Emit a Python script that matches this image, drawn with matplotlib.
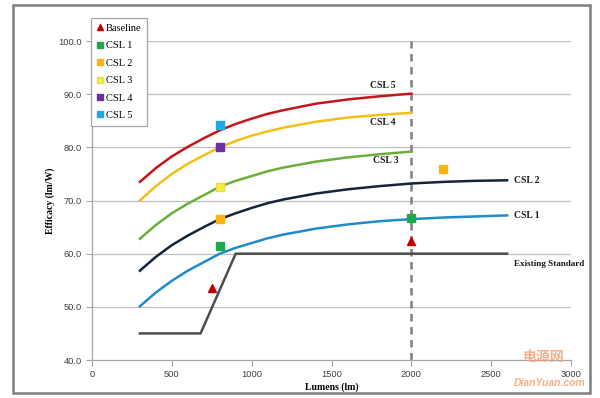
import matplotlib
matplotlib.use("Agg")
import matplotlib.pyplot as plt
from matplotlib.lines import Line2D
from matplotlib.patches import Rectangle

# ---- data ----
curve_x = [300, 400, 500, 600, 700, 800, 900, 1000, 1100, 1200, 1400, 1600, 1800, 2000]
curve_x_long = curve_x + [2200, 2400, 2600]
csl5_y = [73.5, 76.1, 78.3, 80.1, 81.7, 83.2, 84.4, 85.4, 86.3, 87.0, 88.2, 89.0, 89.6, 90.1]
csl4_y = [70.0, 72.7, 75.0, 76.9, 78.5, 80.0, 81.2, 82.2, 83.0, 83.7, 84.8, 85.6, 86.1, 86.5]
csl3_y = [62.8, 65.4, 67.6, 69.4, 71.0, 72.6, 73.7, 74.6, 75.5, 76.2, 77.3, 78.1, 78.7, 79.2]
csl2_y = [56.8, 59.4, 61.6, 63.4, 65.0, 66.5, 67.6, 68.6, 69.5, 70.2, 71.3, 72.1, 72.7, 73.2, 73.5, 73.7, 73.8]
csl1_y = [50.1, 52.7, 54.9, 56.8, 58.4, 60.0, 61.1, 62.0, 62.9, 63.6, 64.7, 65.5, 66.1, 66.5, 66.8, 67.0, 67.2]
std_x = [300, 680, 900, 2600]
std_y = [45.0, 45.0, 60.0, 60.0]

baseline_x = [750, 2000]
baseline_y = [53.5, 62.4]
m_csl1_x = [800, 2000]
m_csl1_y = [61.5, 66.7]
m_csl2_x = [800, 2200]
m_csl2_y = [66.6, 75.9]
m_csl3_x = [800]
m_csl3_y = [72.6]
m_csl4_x = [800]
m_csl4_y = [80.0]
m_csl5_x = [800]
m_csl5_y = [84.2]

x_ticks = [0, 500, 1000, 1500, 2000, 2500, 3000]
y_ticks = [40.0, 50.0, 60.0, 70.0, 80.0, 90.0, 100.0]
ref_x = 2000

# ---- figure ----
fig = plt.figure(figsize=(6.0, 3.98), dpi=100)
fig.patch.set_facecolor("white")
ax = fig.add_axes([92 / 600, 1 - 360 / 398, (571 - 92) / 600, (360 - 41) / 398])

serif = ["Liberation Serif", "DejaVu Serif"]
sans = ["Liberation Sans", "DejaVu Sans"]

ax.set_xlim(0, 3000)
ax.set_ylim(40, 100)
for yv in y_ticks[1:]:
    ax.axhline(yv, color="#BFBFBF", lw=0.9, zorder=0)

for s in ["top", "right"]:
    ax.spines[s].set_visible(False)
for s in ["left", "bottom"]:
    ax.spines[s].set_color("#A6A6A6")
    ax.spines[s].set_linewidth(0.9)

ax.set_xticks(x_ticks)
ax.set_yticks(y_ticks)
ax.set_yticklabels([f"{v:.1f}" for v in y_ticks])
ax.tick_params(axis="both", length=4, width=0.8, color="#A6A6A6",
               labelsize=6.7, labelcolor="#404040")
ax.tick_params(axis="x", pad=3)
for lab in ax.get_xticklabels() + ax.get_yticklabels():
    lab.set_family(sans)

ax.set_xlabel("Lumens (lm)", family=serif, fontweight="bold", fontsize=7, labelpad=3)
ax.set_ylabel("Efficacy (lm/W)", family=serif, fontweight="bold", fontsize=7, labelpad=2)

# dashed reference
ax.axvline(ref_x, color="#7F7F7F", lw=1.8, ls=(0, (3, 2.2)), zorder=1)

# curves
ax.plot(std_x, std_y, color="#4D4D4D", lw=1.8, zorder=2)
ax.plot(curve_x_long, csl1_y, color="#1E8CC8", lw=1.8, zorder=2)
ax.plot(curve_x_long, csl2_y, color="#13253A", lw=1.8, zorder=2)
ax.plot(curve_x, csl3_y, color="#6AAF3A", lw=1.8, zorder=2)
ax.plot(curve_x, csl4_y, color="#F2BE1A", lw=1.8, zorder=2)
ax.plot(curve_x, csl5_y, color="#C3161C", lw=1.8, zorder=2)

# markers
ms = 5.5
ax.plot(baseline_x, baseline_y, ls="none", marker="^", ms=5.5, color="#C00000", zorder=4)
ax.plot(m_csl1_x, m_csl1_y, ls="none", marker="s", ms=ms, color="#1DA84C", zorder=4)
ax.plot(m_csl2_x, m_csl2_y, ls="none", marker="s", ms=ms, color="#F9B413", zorder=4)
ax.plot(m_csl3_x, m_csl3_y, ls="none", marker="s", ms=ms, color="#F5F03C",
        markeredgecolor="#E8D84A", zorder=4)
ax.plot(m_csl4_x, m_csl4_y, ls="none", marker="s", ms=ms, color="#6A2FA0", zorder=4)
ax.plot(m_csl5_x, m_csl5_y, ls="none", marker="s", ms=ms, color="#1EA8E6", zorder=4)

# curve labels
lab_kw = dict(family=serif, fontweight="bold", color="#1A1A1A")
ax.text(1820, 91.7, "CSL 5", ha="center", va="center", fontsize=6.9, **lab_kw)
ax.text(1820, 84.6, "CSL 4", ha="center", va="center", fontsize=6.9, **lab_kw)
ax.text(1840, 77.5, "CSL 3", ha="center", va="center", fontsize=6.9, **lab_kw)
ax.text(2645, 73.8, "CSL 2", ha="left", va="center", fontsize=6.9, **lab_kw)
ax.text(2645, 67.2, "CSL 1", ha="left", va="center", fontsize=6.9, **lab_kw)
ax.text(2645, 58.1, "Existing Standard", ha="left", va="center", fontsize=6.6, **lab_kw)

# legend
handles = [
    Line2D([], [], ls="none", marker="^", ms=4.6, color="#C00000"),
    Line2D([], [], ls="none", marker="s", ms=5, color="#1DA84C"),
    Line2D([], [], ls="none", marker="s", ms=5, color="#F9B413"),
    Line2D([], [], ls="none", marker="s", ms=5, color="#F5F03C", markeredgecolor="#E8D84A"),
    Line2D([], [], ls="none", marker="s", ms=5, color="#6A2FA0"),
    Line2D([], [], ls="none", marker="s", ms=5, color="#1EA8E6"),
]
labels = ["Baseline", "CSL 1", "CSL 2", "CSL 3", "CSL 4", "CSL 5"]
leg = fig.legend(handles, labels, loc="upper left", bbox_to_anchor=(91 / 600, 1 - 18 / 398),
                 bbox_transform=fig.transFigure, borderaxespad=0, fancybox=False,
                 framealpha=1, edgecolor="#A6A6A6", prop={"family": serif, "size": 7.5},
                 handlelength=0.6, handletextpad=0.3, labelspacing=0.78,
                 borderpad=0.55)
leg.get_frame().set_linewidth(0.9)
leg.set_zorder(10)

# outer frame
fig.patches.append(Rectangle((13 / 600, 1 - 393 / 398), (590 - 13) / 600, (393 - 5) / 398,
                             transform=fig.transFigure, fill=False,
                             edgecolor="#7F7F7F", lw=1.8, zorder=0))

# watermark
fig.text(543 / 600, 1 - 357 / 398, "电源网", family=["Noto Sans CJK SC", "DejaVu Sans"],
         fontsize=10, color="#F4A070", alpha=0.85, ha="center", va="center", fontweight="bold")
fig.text(550 / 600, 1 - 383 / 398, "DianYuan.com", family=sans, fontsize=7.5,
         color="#F4A070", alpha=0.85, ha="center", va="center", fontweight="bold", style="italic")

fig.savefig("out.png", dpi=100, facecolor="white")
